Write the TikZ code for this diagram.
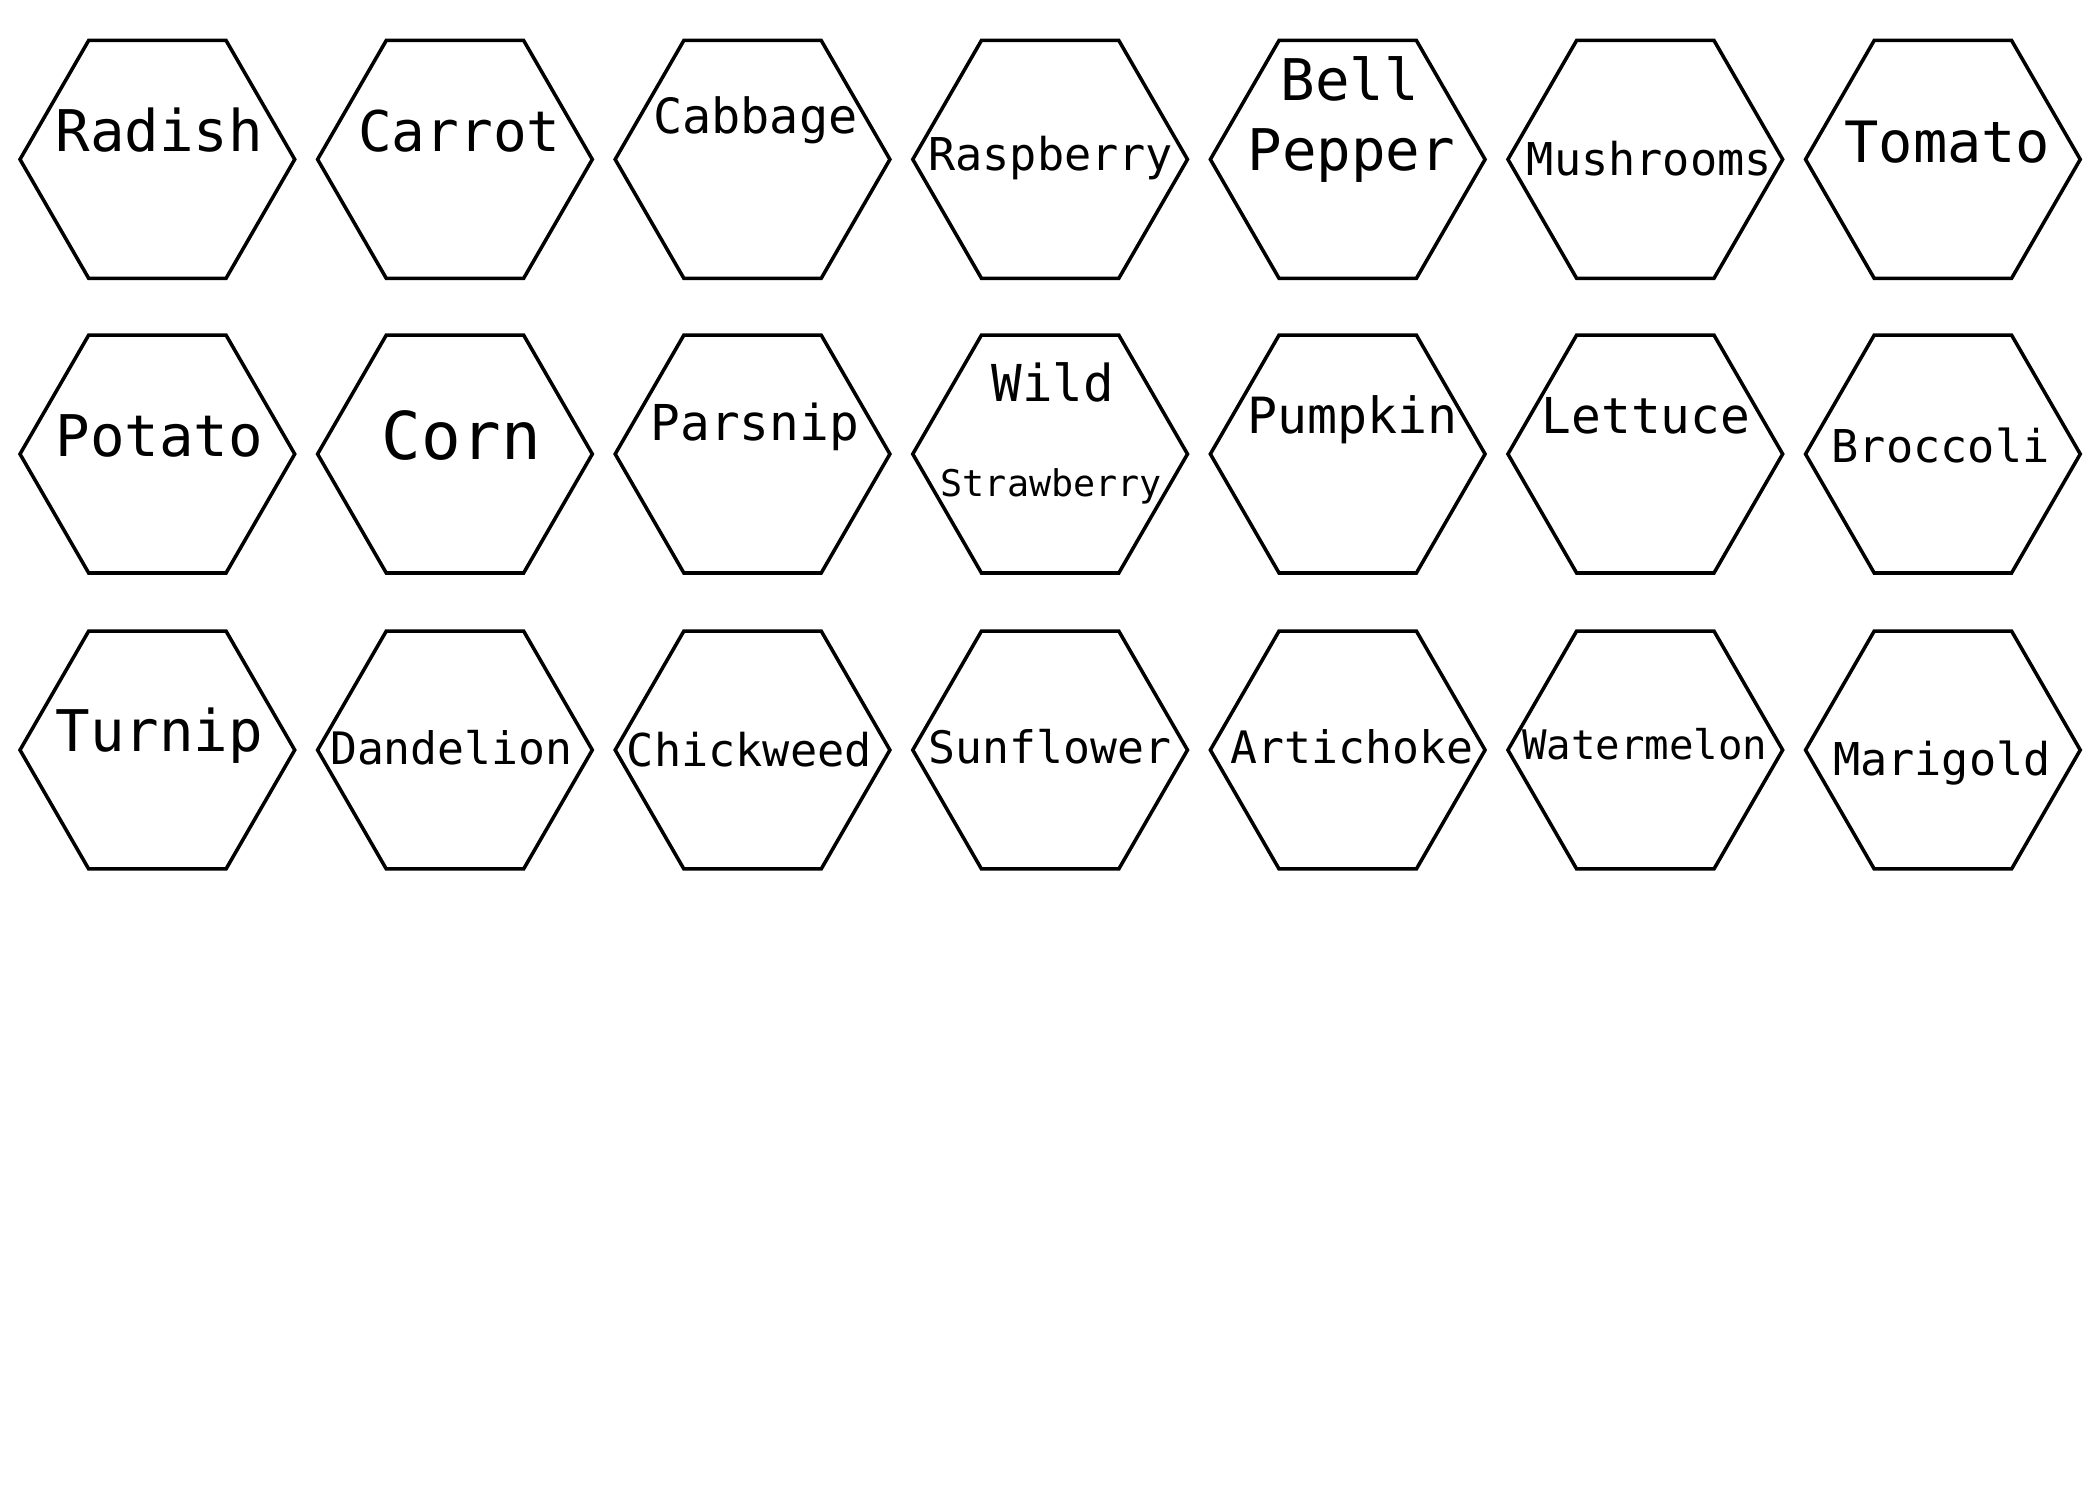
\documentclass[tikz,border=0pt]{standalone}
\usepackage{fontspec}
\setmonofont{DejaVu Sans Mono}
\usetikzlibrary{shapes.geometric}
\tikzset{
  hexa/.style={regular polygon, regular polygon sides=6, draw=black, line width=0.75pt,
    minimum size=2.05cm, inner sep=0pt, outer sep=0pt, fill=white},
  lbl/.style={inner sep=0pt, anchor=base, font=\ttfamily\fontsize{#1}{#1}\selectfont}
}
\begin{document}
\begin{tikzpicture}[x=0.01cm, y=-0.01cm]
\useasboundingbox (0,0) rectangle (1568,1120);
% hexagons
\foreach \r/\yy in {1/119, 2/339, 3/560}{
  \foreach \c in {1,...,7}{
    \node[hexa] (h\r\c) at ({117.5+(\c-1)*222.2},\yy) {};
  }
}
% row 1
\node[lbl=12.2] (t11) at (119,113) {Radish};
\node[lbl=11.9] (t12) at (343,113) {Carrot};
\node[lbl=10.3] (t13) at (564,100) {Cabbage};
\node[lbl=9.6] (t14) at (784.5,127) {Raspberry};
\node[lbl=12.2] (t15a) at (1008,75) {Bell};
\node[lbl=12.2] (t15b) at (1009,127) {Pepper};
\node[lbl=9.6] (t16) at (1231.5,131) {Mushrooms};
\node[lbl=12.1] (t17) at (1454,121) {Tomato};
% row 2
\node[lbl=12.2] (t21) at (119,341) {Potato};
\node[lbl=14.0] (t22) at (344.5,343) {Corn};
\node[lbl=10.5] (t23) at (563.5,329) {Parsnip};
\node[lbl=10.8] (t24a) at (786,300) {Wild};
\node[lbl=7.8] (t24b) at (785,371) {Strawberry};
\node[lbl=10.6] (t25) at (1010,324) {Pumpkin};
\node[lbl=10.5] (t26) at (1229,324) {Lettuce};
\node[lbl=9.6] (t27) at (1449,345) {Broccoli};
% row 3
\node[lbl=12.2] (t31) at (119,561) {Turnip};
\node[lbl=9.5] (t32) at (337,571) {Dandelion};
\node[lbl=9.6] (t33) at (559.5,572) {Chickweed};
\node[lbl=9.5] (t34) at (784,570) {Sunflower};
\node[lbl=9.5] (t35) at (1009.5,570) {Artichoke};
\node[lbl=8.65] (t36) at (1228,567) {Watermelon};
\node[lbl=9.6] (t37) at (1450,579) {Marigold};
\end{tikzpicture}
\end{document}
